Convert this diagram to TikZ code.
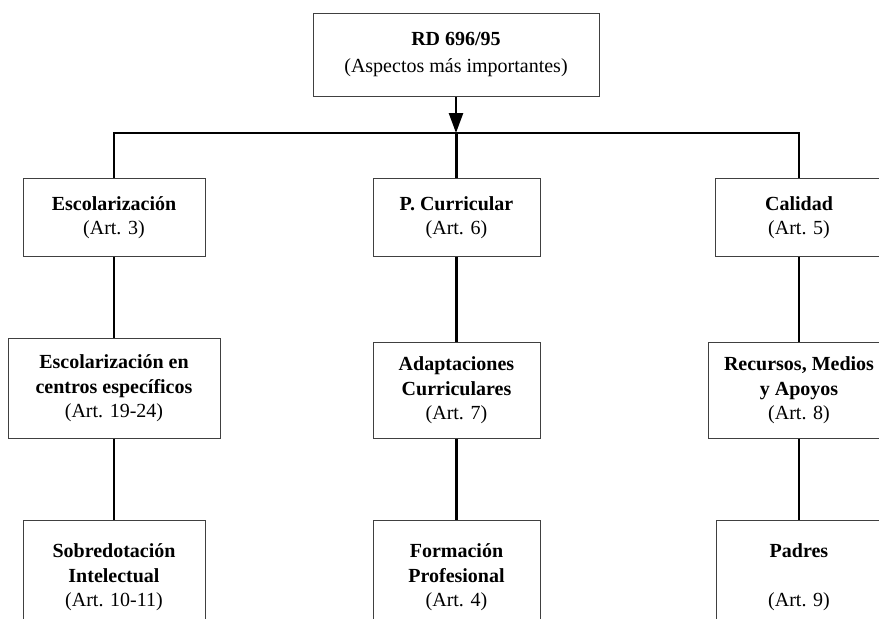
\documentclass[tikz,border=0pt]{standalone}
\usepackage{fontspec}
\setmainfont{Liberation Serif}
\usetikzlibrary{arrows.meta}
\begin{document}
\begin{tikzpicture}[x=1pt,y=-1pt,
  boxst/.style={draw=black!75, line width=0.9pt, fill=white, align=center, inner sep=0pt,
    font=\fontsize{20}{24.5}\selectfont, anchor=north},
  conn/.style={line width=2.5pt, black}]
\useasboundingbox (0,0) rectangle (879,619);
\clip (0,0) rectangle (879,619);
% top
\node[boxst, minimum width=286, minimum height=83, font=\fontsize{20}{27}\selectfont] (top) at (456,13) {\textbf{RD 696/95}\\(Aspectos más importantes)};
% level 1
\node[boxst, minimum width=182, minimum height=78] (a1) at (114,178) {\textbf{Escolarización}\\(Art. 3)};
\node[boxst, minimum width=167, minimum height=78] (b1) at (456.5,178) {\textbf{P. Curricular}\\(Art. 6)};
\node[boxst, minimum width=168, minimum height=78] (c1) at (799,178) {\textbf{Calidad}\\(Art. 5)};
% level 2
\node[boxst, minimum width=212, minimum height=100] (a2) at (114,338) {\textbf{Escolarización en}\\\textbf{centros específicos}\\(Art. 19-24)};
\node[boxst, minimum width=167, minimum height=96] (b2) at (456.5,342) {\textbf{Adaptaciones}\\\textbf{Curriculares}\\(Art. 7)};
\node[boxst, minimum width=182, minimum height=96] (c2) at (799,342) {\textbf{Recursos, Medios}\\\textbf{y Apoyos}\\(Art. 8)};
% level 3
\node[boxst, minimum width=182, minimum height=114] (a3) at (114,520) {\textbf{Sobredotación}\\\textbf{Intelectual}\\(Art. 10-11)};
\node[boxst, minimum width=167, minimum height=114] (b3) at (456.5,520) {\textbf{Formación}\\\textbf{Profesional}\\(Art. 4)};
\node[boxst, minimum width=166, minimum height=114] (c3) at (799,520) {\textbf{Padres}\\\mbox{}\\(Art. 9)};
% connectors
\coordinate (hub) at (456,133);
\draw[conn, -{Triangle[length=20pt,width=14pt]}] (top.south) -- (hub);
\draw[conn] (a1.north) -- (a1.north |- hub) -- (c1.north |- hub) -- (c1.north);
\draw[conn] (b1.north) -- (b1.north |- hub);
\draw[conn] (a1.south) -- (a2.north);
\draw[conn] (a2.south) -- (a3.north);
\draw[conn] (b1.south) -- (b2.north);
\draw[conn] (b2.south) -- (b3.north);
\draw[conn] (c1.south) -- (c2.north);
\draw[conn] (c2.south) -- (c3.north);
\end{tikzpicture}
\end{document}
